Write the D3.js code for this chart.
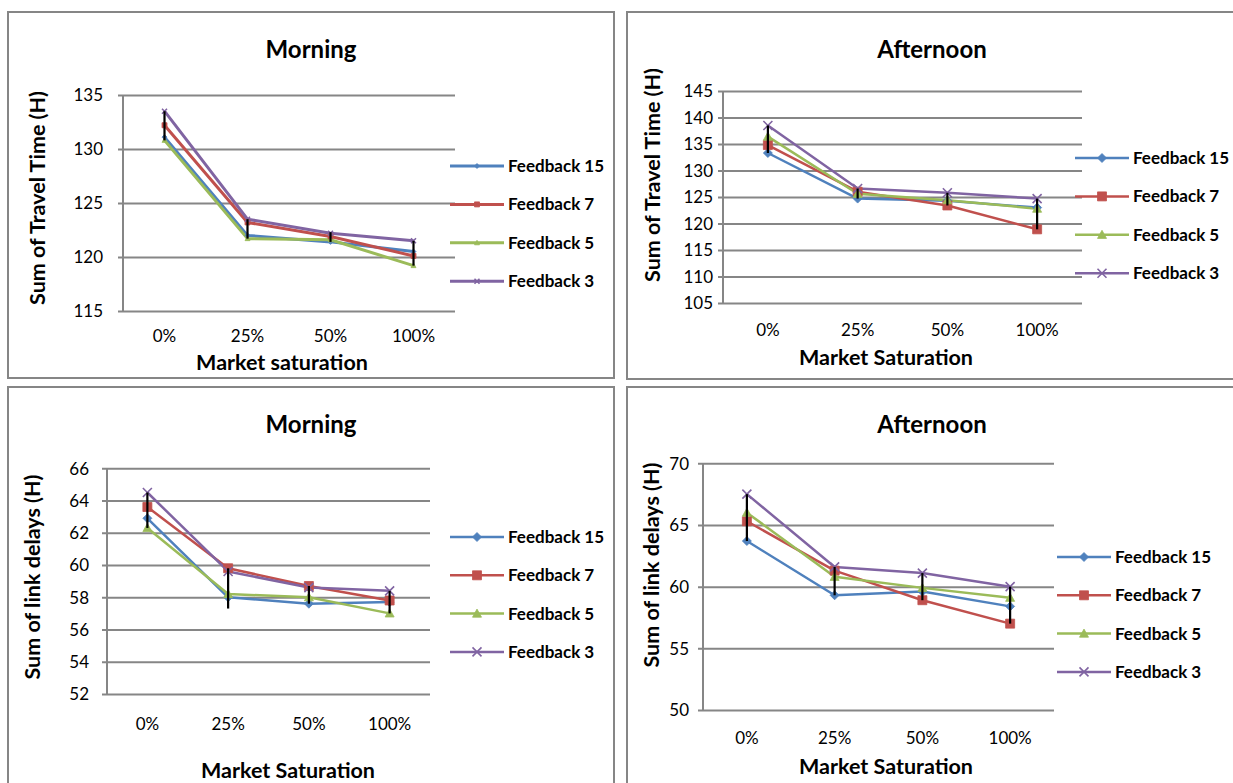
<!DOCTYPE html>
<html><head><meta charset="utf-8">
<script src="https://cdn.jsdelivr.net/npm/d3@7"></script>
<style>
body{margin:0;background:#fff}
svg{display:block}
text{font-family:Lato,"Open Sans",sans-serif;fill:#000}
</style>
</head><body>
<svg id="chart" width="1233" height="783"></svg>
<script>
// Categories and series
const categories = ["0%", "25%", "50%", "100%"];
const seriesNames = ["Feedback 15", "Feedback 7", "Feedback 5", "Feedback 3"];
const seriesColors = ["#4F81BD", "#C0504D", "#9BBB59", "#8064A2"];
const seriesSymbols = ["diamond", "square", "triangle", "cross"];

// Sum of travel time (H), morning: one row per series
const travelMorning = [
  [131.1, 122.0, 121.4, 120.5],
  [132.2, 123.2, 121.9, 120.1],
  [130.8, 121.7, 121.6, 119.2],
  [133.5, 123.5, 122.2, 121.5]
];
const travelMorningLow  = [130.8, 121.7, 121.4, 119.2];
const travelMorningHigh = [133.5, 123.5, 122.3, 121.5];

// Sum of travel time (H), afternoon
const travelAfternoon = [
  [133.3, 124.7, 124.3, 123.0],
  [134.8, 126.0, 123.4, 118.9],
  [136.4, 125.6, 124.4, 122.8],
  [138.5, 126.6, 125.8, 124.7]
];
const travelAfternoonLow  = [133.3, 124.7, 123.4, 118.9];
const travelAfternoonHigh = [138.5, 126.6, 125.8, 124.7];

// Sum of link delays (H), morning
const delaysMorning = [
  [62.9, 58.0, 57.6, 57.7],
  [63.6, 59.8, 58.7, 57.8],
  [62.3, 58.2, 58.0, 57.0],
  [64.5, 59.6, 58.6, 58.4]
];
const delaysMorningLow  = [62.3, 57.3, 57.6, 57.0];
const delaysMorningHigh = [64.5, 59.8, 58.7, 58.4];

// Sum of link delays (H), afternoon
const delaysAfternoon = [
  [63.7, 59.3, 59.6, 58.4],
  [65.3, 61.3, 58.9, 57.0],
  [66.0, 60.8, 59.9, 59.1],
  [67.5, 61.6, 61.1, 60.0]
];
const delaysAfternoonLow  = [63.7, 59.3, 58.9, 57.0];
const delaysAfternoonHigh = [67.5, 61.6, 61.1, 60.0];

// Y-axis ticks per chart
const travelMorningTicks   = [115, 120, 125, 130, 135];
const travelAfternoonTicks = [105, 110, 115, 120, 125, 130, 135, 140, 145];
const delaysMorningTicks   = [52, 54, 56, 58, 60, 62, 64, 66];
const delaysAfternoonTicks = [50, 55, 60, 65, 70];

const svg = d3.select("#chart");
const gridColor = "#868686";

function symbolPath(kind, size) {
  const s = size / 2;
  if (kind === "diamond") return `M0,${-s}L${s},0L0,${s}L${-s},0Z`;
  if (kind === "square") return `M${-s},${-s}H${s}V${s}H${-s}Z`;
  if (kind === "triangle") return `M0,${-s}L${s},${s*0.8}L${-s},${s*0.8}Z`;
  return `M${-s},${-s}L${s},${s}M${s},${-s}L${-s},${s}`;
}

function drawMarker(g, kind, color, size, x, y) {
  const p = g.append("path")
    .attr("transform", `translate(${x},${y})`)
    .attr("d", symbolPath(kind, size));
  if (kind === "cross") p.attr("fill", "none").attr("stroke", color).attr("stroke-width", 1.6);
  else p.attr("fill", color).attr("stroke", color).attr("stroke-width", 0.8);
}

function drawPanel(o) {
  const g = svg.append("g");

  // Chart frame
  g.append("rect")
    .attr("x", o.frame[0]).attr("y", o.frame[1])
    .attr("width", o.frame[2]).attr("height", o.frame[3])
    .attr("fill", "none").attr("stroke", gridColor).attr("stroke-width", 2);

  const x = d3.scaleBand().domain(categories).range([o.plot[0], o.plot[1]]);
  const cx = c => x(c) + x.bandwidth() / 2;
  const y = d3.scaleLinear().domain(d3.extent(o.ticks)).range([o.plot[3], o.plot[2]]);

  // Horizontal gridlines + left axis with outside ticks
  const yAxis = d3.axisLeft(y).tickValues(o.ticks).tickSize(0).tickPadding(0).tickFormat(d3.format("d"));
  const ya = g.append("g").attr("transform", `translate(${o.plot[0]},0)`).call(yAxis);
  ya.select(".domain").remove();
  ya.selectAll(".tick text").remove();
  ya.selectAll(".tick line")
    .attr("x1", -5).attr("x2", o.plot[1] - o.plot[0])
    .attr("stroke", gridColor).attr("stroke-width", 2);
  ya.selectAll(".tick").append("text")
    .attr("x", -o.labelGap).attr("dy", "0.35em")
    .attr("text-anchor", "end")
    .style("font-size", o.tickFont + "px")
    .text(d => d);
  // Vertical axis line
  g.append("line")
    .attr("x1", o.plot[0]).attr("x2", o.plot[0])
    .attr("y1", o.plot[2]).attr("y2", o.plot[3])
    .attr("stroke", gridColor).attr("stroke-width", 2);

  // Category labels
  const xa = g.append("g").attr("transform", `translate(0,${o.plot[3]})`)
    .call(d3.axisBottom(x).tickSize(0).tickPadding(0));
  xa.select(".domain").remove();
  xa.selectAll(".tick text")
    .attr("y", o.catY - o.plot[3]).attr("dy", "0.35em")
    .style("font-size", o.tickFont + "px")
    .style("font-family", "Lato, sans-serif")
    .attr("fill", "#000");

  // Series lines and markers
  const line = d3.line().x((d, i) => cx(categories[i])).y(d => y(d));
  o.values.forEach((vals, si) => {
    g.append("path").datum(vals)
      .attr("d", line).attr("fill", "none")
      .attr("stroke", seriesColors[si]).attr("stroke-width", o.lineWidth)
      .attr("stroke-linejoin", "round");
  });
  o.values.forEach((vals, si) => {
    vals.forEach((v, i) => drawMarker(g, seriesSymbols[si], seriesColors[si], o.markerSize, cx(categories[i]), y(v)));
  });

  // High-low range bars
  categories.forEach((c, i) => {
    g.append("line")
      .attr("x1", cx(c)).attr("x2", cx(c))
      .attr("y1", y(o.high[i])).attr("y2", y(o.low[i]))
      .attr("stroke", "#000").attr("stroke-width", 2.2);
  });

  // Titles
  g.append("text").attr("x", o.titleX).attr("y", o.titleY)
    .attr("text-anchor", "middle").style("font-size", "24px").style("font-weight", 700)
    .text(o.title);
  g.append("text").attr("x", o.xTitle[0]).attr("y", o.xTitle[1])
    .attr("text-anchor", "middle").attr("dy", "0.35em")
    .style("font-size", "21.5px").style("font-weight", 700)
    .text(o.xLabel);
  g.append("text")
    .attr("transform", `translate(${o.yTitle[0]},${o.yTitle[1]}) rotate(-90)`)
    .attr("text-anchor", "middle").attr("dy", "0.35em")
    .style("font-size", "21.5px").style("font-weight", 700)
    .text(o.yLabel);

  // Legend
  seriesNames.forEach((name, si) => {
    const ly = o.legend[1] + si * o.legend[2];
    const lx = o.legend[0];
    g.append("line").attr("x1", lx).attr("x2", lx + 54).attr("y1", ly).attr("y2", ly)
      .attr("stroke", seriesColors[si]).attr("stroke-width", o.lineWidth);
    drawMarker(g, seriesSymbols[si], seriesColors[si], o.markerSize, lx + 27, ly);
    g.append("text").attr("x", lx + 58).attr("y", ly).attr("dy", "0.35em")
      .style("font-size", "17px").style("font-weight", 700)
      .text(name);
  });
}

drawPanel({
  frame: [8, 12, 606, 366], plot: [123, 455, 95, 311],
  ticks: travelMorningTicks, values: travelMorning,
  low: travelMorningLow, high: travelMorningHigh,
  title: "Morning", titleX: 311, titleY: 58,
  xLabel: "Market saturation", xTitle: [282, 362],
  yLabel: "Sum of Travel Time (H)", yTitle: [37, 198],
  catY: 336.5, tickFont: 17, labelGap: 20, lineWidth: 3, markerSize: 5,
  legend: [450, 166, 38.4]
});

drawPanel({
  frame: [627, 12, 620, 367], plot: [723, 1082, 91, 303],
  ticks: travelAfternoonTicks, values: travelAfternoon,
  low: travelAfternoonLow, high: travelAfternoonHigh,
  title: "Afternoon", titleX: 932, titleY: 58,
  xLabel: "Market Saturation", xTitle: [886, 357],
  yLabel: "Sum of Travel Time (H)", yTitle: [652, 175],
  catY: 330, tickFont: 17, labelGap: 10, lineWidth: 2.5, markerSize: 9,
  legend: [1075, 158, 38.4]
});

drawPanel({
  frame: [8, 387, 606, 410], plot: [107, 430, 468.3, 694],
  ticks: delaysMorningTicks, values: delaysMorning,
  low: delaysMorningLow, high: delaysMorningHigh,
  title: "Morning", titleX: 311, titleY: 433,
  xLabel: "Market Saturation", xTitle: [288, 770],
  yLabel: "Sum of link delays (H)", yTitle: [32, 577],
  catY: 724, tickFont: 17, labelGap: 18, lineWidth: 2.5, markerSize: 9,
  legend: [450, 537, 38.3]
});

drawPanel({
  frame: [627, 387, 620, 410], plot: [703, 1054, 463.3, 710],
  ticks: delaysAfternoonTicks, values: delaysAfternoon,
  low: delaysAfternoonLow, high: delaysAfternoonHigh,
  title: "Afternoon", titleX: 932, titleY: 433,
  xLabel: "Market Saturation", xTitle: [886, 766],
  yLabel: "Sum of link delays (H)", yTitle: [651, 565],
  catY: 738, tickFont: 17, labelGap: 14, lineWidth: 2.5, markerSize: 9,
  legend: [1057, 557, 38.3]
});
</script>
</body></html>
